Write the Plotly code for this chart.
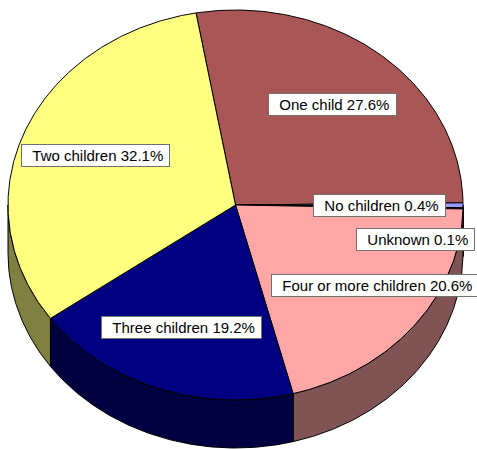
import numpy as np
import plotly.graph_objects as go

# ---- data ----
CATEGORIES = ["One child", "No children", "Unknown", "Four or more children",
              "Three children", "Two children"]
SHARES = [27.6, 0.4, 0.1, 20.6, 19.2, 32.1]

# ---- style ----
TOP_COLORS = ["#A95656", "#9999FF", "#007070", "#FFA7A7", "#000080", "#FFFF80"]
SIDE_COLORS = ["#552B2B", "#4D4D80", "#003838", "#805454", "#000040", "#808040"]
LABEL_SHIFTS = [(0, 0), (-8, 0), (28, 32), (21, 0), (-2, 0), (0, 0)]

W, H = 477, 449
CX, CY = 235.5, 205.0
RX, RY = 227.5, 195.0
DEPTH = 48.0
START_DEG = -10.0
LABEL_R = 0.667
NB = "\u00a0"


def pt(theta_deg, r=1.0, dz=0.0):
    t = np.radians(theta_deg)
    return CX + RX * r * np.sin(t), CY - RY * r * np.cos(t) + dz


total = float(sum(SHARES))
bounds = [START_DEG]
for s in SHARES:
    bounds.append(bounds[-1] + 360.0 * s / total)

fig = go.Figure()

# side walls (front half, 90..270 deg clockwise from top)
for i, s in enumerate(SHARES):
    a1, a2 = bounds[i], bounds[i + 1]
    s1, s2 = max(a1, 90.0), min(a2, 270.0)
    if s2 <= s1:
        continue
    ang = np.linspace(s1, s2, max(4, int((s2 - s1) * 2)))
    xt, yt = pt(ang)
    xb, yb = pt(ang[::-1], dz=DEPTH)
    xs = np.concatenate([xt, xb, xt[:1]])
    ys = np.concatenate([yt, yb, yt[:1]])
    fig.add_trace(go.Scatter(x=xs, y=ys, mode="lines", fill="toself",
                             fillcolor=SIDE_COLORS[i],
                             line=dict(color="black", width=1),
                             hoverinfo="skip", showlegend=False))

# top faces
for i, s in enumerate(SHARES):
    a1, a2 = bounds[i], bounds[i + 1]
    ang = np.linspace(a1, a2, max(4, int((a2 - a1) * 2)))
    xa, ya = pt(ang)
    xs = np.concatenate([[CX], xa, [CX]])
    ys = np.concatenate([[CY], ya, [CY]])
    fig.add_trace(go.Scatter(x=xs, y=ys, mode="lines", fill="toself",
                             fillcolor=TOP_COLORS[i],
                             line=dict(color="black", width=1),
                             hoverinfo="skip", showlegend=False))

# labels
for i, (cat, s) in enumerate(zip(CATEGORIES, SHARES)):
    mid = (bounds[i] + bounds[i + 1]) / 2
    lx, ly = pt(mid, r=LABEL_R)
    dx, dy = LABEL_SHIFTS[i]
    fig.add_annotation(x=lx + dx, y=ly + dy,
                       text=f"{NB}{NB}{cat} {s}%{NB}",
                       showarrow=False, xanchor="center", yanchor="middle",
                       font=dict(family="Liberation Sans, Arial, sans-serif",
                                 size=15, color="black"),
                       bgcolor="white", bordercolor="#707070",
                       borderwidth=1, borderpad=2)

fig.update_layout(
    width=W, height=H,
    margin=dict(l=0, r=0, t=0, b=0),
    paper_bgcolor="white", plot_bgcolor="white",
    xaxis=dict(range=[0, W], visible=False, fixedrange=True),
    yaxis=dict(range=[H, 0], visible=False, fixedrange=True),
    showlegend=False,
)

fig.write_html("out.html",
               config={"displayModeBar": False, "staticPlot": True},
               post_script="document.body.style.margin='0px';")
